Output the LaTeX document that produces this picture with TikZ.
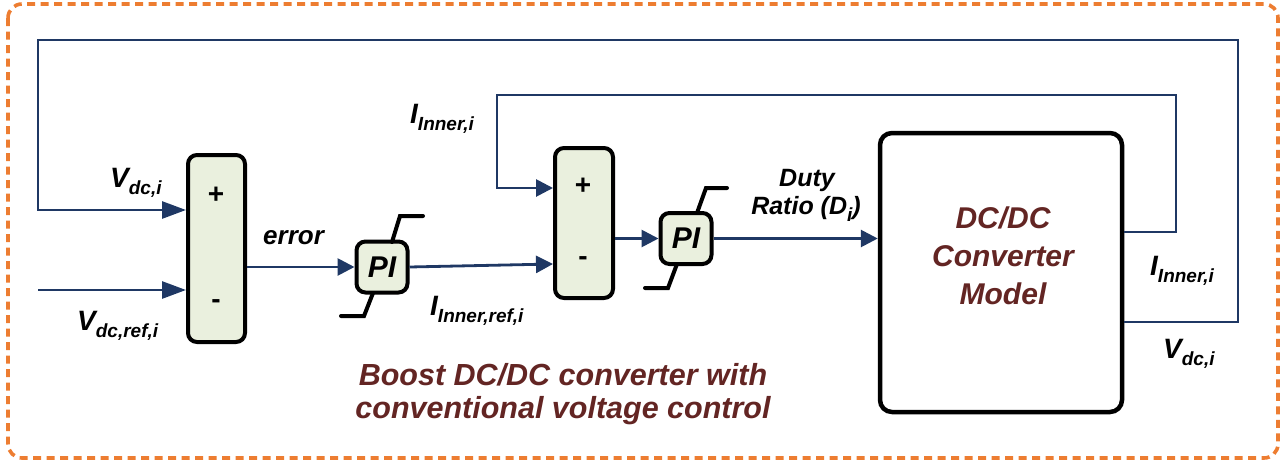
\documentclass[tikz,border=0pt]{standalone}
\usepackage{fontspec}
\setmainfont{Liberation Sans}
\usetikzlibrary{arrows.meta}
\definecolor{wire}{RGB}{31,56,100}
\definecolor{blockfill}{RGB}{234,240,222}
\definecolor{brownred}{RGB}{99,37,35}
\definecolor{frameorange}{RGB}{237,125,49}
\newcommand{\sbx}[1]{\raisebox{-0.28em}{\fontsize{19}{19}\selectfont #1}}
\newcommand{\lbl}{\fontsize{28}{30}\selectfont\bfseries\itshape}
\tikzset{
  wireline/.style={draw=wire, line width=2.8pt},
  arr/.style={wireline, -{Triangle[length=17pt,width=17pt]}},
  bigarr/.style={wireline, -{Triangle[length=24pt,width=17pt]}},
  sumbox/.style={draw=black, fill=blockfill, line width=4pt, rounded corners=9pt, inner sep=0pt},
  pibox/.style={draw=black, fill=blockfill, line width=4pt, rounded corners=9pt, minimum width=51pt, minimum height=51pt, inner sep=0pt, font=\fontsize{30}{30}\selectfont\bfseries\itshape},
  satline/.style={draw=black, line width=4pt, line cap=round},
  labeltxt/.style={inner sep=0pt, font=\lbl},
  signtxt/.style={inner sep=0pt, font=\fontsize{28}{28}\selectfont\bfseries},
}
\begin{document}
\begin{tikzpicture}[x=1pt,y=-1pt]
\useasboundingbox (0,0) rectangle (1286,463);
\draw[frameorange, line width=3.6pt, dash pattern=on 8pt off 5.5pt, rounded corners=14pt] (8,4) rectangle (1278,458);

% blocks
\node[sumbox, minimum width=57pt, minimum height=187pt] (sum1) at (216.5,248.5) {};
\node[sumbox, minimum width=58pt, minimum height=150pt] (sum2) at (584,223) {};
\node[pibox] (pi1) at (382,267) {PI};
\node[pibox] (pi2) at (686,238.5) {PI};
\node[draw=black, fill=white, line width=4.5pt, rounded corners=12pt, minimum width=242pt, minimum height=279pt, inner sep=0pt] (conv) at (1001,272.5) {};
\node[inner sep=0pt, align=center, text=brownred, font=\fontsize{30}{38}\selectfont\bfseries\itshape] (convtxt) at (1003,256) {DC/DC\\Converter\\Model};

% signs
\node[signtxt] (p1) at (216,195) {+};
\node[signtxt] (m1) at (216,304) {-};
\node[signtxt] (p2) at (583,186) {+};
\node[signtxt] (m2) at (583,261) {-};

% saturation symbols
\draw[satline] (392,242) -- (400,216) -- (423,216);
\draw[satline] (373,293) -- (364,316) -- (341,316);
\draw[satline] (697,213) -- (706,188) -- (727,188);
\draw[satline] (677,264) -- (668,288) -- (645,288);

% coordinates
\coordinate (vfbL) at (38,210);
\coordinate (vrefin) at (38,290);
\coordinate (ifbL) at (497,188);

% connectors
\draw[bigarr] (conv.east |- 0,322) -- (1238,322) -- (1238,40) -- (38,40) -- (vfbL) -- (sum1.west |- vfbL);
\draw[bigarr] (vrefin) -- (sum1.west |- vrefin);
\draw[arr] (sum1.east |- pi1.west) -- (pi1.west);
\draw[arr] (pi1.east) -- (sum2.west |- 0,264);
\draw[arr] (conv.east |- 0,232) -- (1176,232) -- (1176,95) -- (497,95) -- (ifbL) -- (sum2.west |- ifbL);
\draw[arr] (sum2.east |- pi2.west) -- (pi2.west);
\draw[arr] (pi2.east) -- (conv.west |- pi2.east);

% labels
\node[labeltxt, anchor=base west] (lvdc) at (110,187) {V\sbx{dc,i}};
\node[labeltxt, anchor=base west] (lvref) at (77,330) {V\sbx{dc,ref,i}};
\node[labeltxt, anchor=base west, font=\fontsize{26}{26}\selectfont\bfseries\itshape] (lerr) at (263,244) {error};
\node[labeltxt, anchor=base west] (liref) at (430,315) {I\sbx{Inner,ref,i}};
\node[labeltxt, anchor=base west] (lifb) at (410,123) {I\sbx{Inner,i}};
\node[labeltxt, anchor=base, font=\fontsize{25}{25}\selectfont\bfseries\itshape] (lduty) at (807,186) {Duty};
\node[labeltxt, anchor=base, font=\fontsize{25}{25}\selectfont\bfseries\itshape] (lratio) at (806,214) {Ratio (D\sbx{i})};
\node[labeltxt, anchor=base west] (liout) at (1150,275) {I\sbx{Inner,i}};
\node[labeltxt, anchor=base west] (lvout) at (1163,358) {V\sbx{dc,i}};
\node[inner sep=0pt, align=center, text=brownred, font=\fontsize{30.5}{33}\selectfont\bfseries\itshape] (caption) at (563,394) {Boost DC/DC converter with\\conventional voltage control};
\end{tikzpicture}
\end{document}
